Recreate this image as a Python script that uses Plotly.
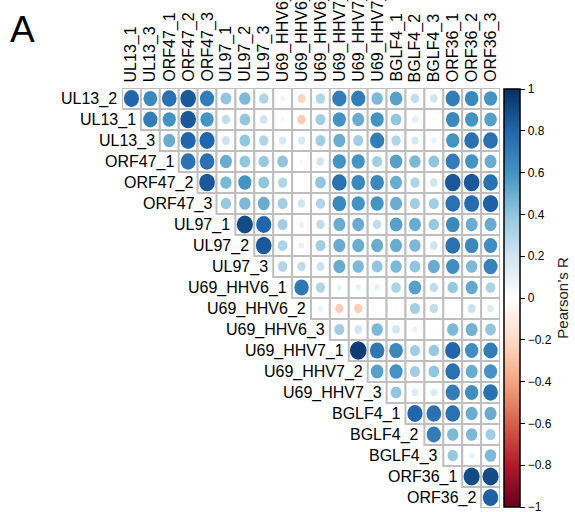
import plotly.graph_objects as go
from plotly.colors import sample_colorscale

# Row and column names of the correlation triangle
row_labels = ["UL13_2", "UL13_1", "UL13_3", "ORF47_1", "ORF47_2", "ORF47_3",
              "UL97_1", "UL97_2", "UL97_3", "U69_HHV6_1", "U69_HHV6_2",
              "U69_HHV6_3", "U69_HHV7_1", "U69_HHV7_2", "U69_HHV7_3",
              "BGLF4_1", "BGLF4_2", "BGLF4_3", "ORF36_1", "ORF36_2"]
col_labels = ["UL13_1", "UL13_3", "ORF47_1", "ORF47_2", "ORF47_3", "UL97_1",
              "UL97_2", "UL97_3", "U69_HHV6_1", "U69_HHV6_2", "U69_HHV6_3",
              "U69_HHV7_1", "U69_HHV7_2", "U69_HHV7_3", "BGLF4_1", "BGLF4_2",
              "BGLF4_3", "ORF36_1", "ORF36_2", "ORF36_3"]

# Pearson's R, row i holds columns i..19
r_values = [
    [0.80, 0.65, 0.75, 0.85, 0.70, 0.40, 0.45, 0.30, 0.08, -0.22, 0.30, 0.70, 0.70, 0.45, 0.55, 0.25, 0.20, 0.70, 0.65, 0.60],
    [0.70, 0.60, 0.85, 0.60, 0.25, 0.40, 0.20, 0.05, -0.25, 0.35, 0.60, 0.50, 0.60, 0.40, 0.12, 0.03, 0.65, 0.60, 0.55],
    [0.50, 0.80, 0.80, 0.22, 0.40, 0.30, 0.18, 0.18, 0.35, 0.50, 0.35, 0.70, 0.30, 0.18, 0.10, 0.60, 0.75, 0.75],
    [0.75, 0.75, 0.50, 0.40, 0.38, 0.40, 0.05, 0.20, 0.60, 0.60, 0.35, 0.55, 0.45, 0.40, 0.70, 0.60, 0.50],
    [0.85, 0.45, 0.60, 0.40, 0.30, 0.02, 0.40, 0.75, 0.65, 0.65, 0.50, 0.30, 0.20, 0.85, 0.85, 0.75],
    [0.38, 0.45, 0.50, 0.35, 0.20, 0.30, 0.65, 0.60, 0.60, 0.50, 0.35, 0.35, 0.75, 0.78, 0.82],
    [0.90, 0.80, 0.35, 0.10, 0.25, 0.50, 0.50, 0.25, 0.55, 0.50, 0.38, 0.65, 0.50, 0.50],
    [0.85, 0.32, 0.10, 0.35, 0.50, 0.50, 0.50, 0.50, 0.45, 0.20, 0.75, 0.65, 0.62],
    [0.30, 0.25, 0.22, 0.50, 0.45, 0.40, 0.45, 0.40, 0.50, 0.62, 0.45, 0.68],
    [0.72, 0.30, 0.10, 0.10, 0.10, 0.32, 0.55, 0.25, 0.38, 0.52, 0.32],
    [0.10, -0.25, -0.25, 0.00, 0.03, 0.35, 0.25, 0.00, 0.22, 0.15],
    [0.35, 0.20, 0.45, 0.20, 0.10, 0.02, 0.45, 0.48, 0.40],
    [0.95, 0.72, 0.65, 0.35, 0.38, 0.80, 0.62, 0.70],
    [0.55, 0.60, 0.35, 0.40, 0.75, 0.50, 0.60],
    [0.40, 0.15, 0.15, 0.70, 0.62, 0.75],
    [0.80, 0.75, 0.75, 0.50, 0.50],
    [0.70, 0.45, 0.45, 0.35],
    [0.38, 0.10, 0.45],
    [0.90, 0.90],
    [0.82],
]

colorbar_ticks = [1, 0.8, 0.6, 0.4, 0.2, 0, -0.2, -0.4, -0.6, -0.8, -1]

FONT = "Arial, Liberation Sans, sans-serif"
GRID = "#bfbfbf"

# ColorBrewer RdBu with a pure white midpoint
rdbu = [
    [0.0, "rgb(103,0,31)"], [0.1, "rgb(178,24,43)"], [0.2, "rgb(214,96,77)"],
    [0.3, "rgb(244,165,130)"], [0.4, "rgb(253,219,199)"], [0.5, "rgb(255,255,255)"],
    [0.6, "rgb(209,229,240)"], [0.7, "rgb(146,197,222)"], [0.8, "rgb(67,147,195)"],
    [0.9, "rgb(33,102,172)"], [1.0, "rgb(5,48,97)"],
]

xs, ys, vals = [], [], []
for i, row in enumerate(r_values):
    for k, v in enumerate(row):
        xs.append(i + k)
        ys.append(i)
        vals.append(v)

shapes = []
# cell frames
for x, y in zip(xs, ys):
    shapes.append(dict(type="rect", xref="x", yref="y",
                       x0=x - 0.5, x1=x + 0.5, y0=y - 0.5, y1=y + 0.5,
                       line=dict(color=GRID, width=2), fillcolor="white"))
# circles: area proportional to |r|
colors = sample_colorscale(rdbu, [(v + 1) / 2 for v in vals])
for x, y, v, c in zip(xs, ys, vals, colors):
    rad = 0.45 * abs(v) ** 0.5
    if rad <= 0:
        continue
    shapes.append(dict(type="circle", xref="x", yref="y",
                       x0=x - rad, x1=x + rad, y0=y - rad, y1=y + rad,
                       line=dict(width=0), fillcolor=c))

fig = go.Figure()
fig.add_trace(go.Scatter(
    x=xs, y=ys, mode="markers", hoverinfo="skip", showlegend=False,
    marker=dict(color=vals, cmin=-1, cmax=1, colorscale=rdbu, opacity=0, size=1,
                showscale=True,
                colorbar=dict(
                    thickness=16, thicknessmode="pixels",
                    len=418, lenmode="pixels",
                    x=1.0105, xanchor="left", xpad=0,
                    y=0.5, yanchor="middle", ypad=0,
                    outlinecolor="black", outlinewidth=1.5,
                    tickvals=colorbar_ticks,
                    ticktext=[("\u2212" + f"{abs(t):g}") if t < 0 else f"{t:g}" for t in colorbar_ticks],
                    ticks="outside", ticklen=5, tickcolor="black", tickwidth=1,
                    ticklabeloverflow="allow",
                    tickfont=dict(family=FONT, size=12, color="black"),
                    title=dict(text="Pearson\u2019s R", side="right",
                               font=dict(family=FONT, size=15, color="#222")),
                ))))

annotations = []
for i, lab in enumerate(row_labels):
    annotations.append(dict(x=i - 0.5, y=i, xref="x", yref="y", text=lab,
                            showarrow=False, xanchor="right", yanchor="middle",
                            xshift=-3, font=dict(family=FONT, size=16, color="black")))
for j, lab in enumerate(col_labels):
    annotations.append(dict(x=j, y=-0.5, xref="x", yref="y", text=lab,
                            showarrow=False, textangle=-90, xanchor="center",
                            yanchor="bottom", yshift=4,
                            font=dict(family=FONT, size=16, color="black")))
annotations.append(dict(x=-0.264, y=1.14, xref="paper", yref="paper", text="A",
                        showarrow=False, xanchor="center", yanchor="middle",
                        font=dict(family=FONT, size=37, color="black")))

fig.update_layout(
    width=575, height=512,
    margin=dict(l=122, r=71, t=88, b=4),
    paper_bgcolor="white", plot_bgcolor="white",
    xaxis=dict(range=[-0.5, 19.5], visible=False, fixedrange=True),
    yaxis=dict(range=[19.5, -0.5], visible=False, fixedrange=True),
    shapes=shapes, annotations=annotations,
)

fig.write_html("out.html")
